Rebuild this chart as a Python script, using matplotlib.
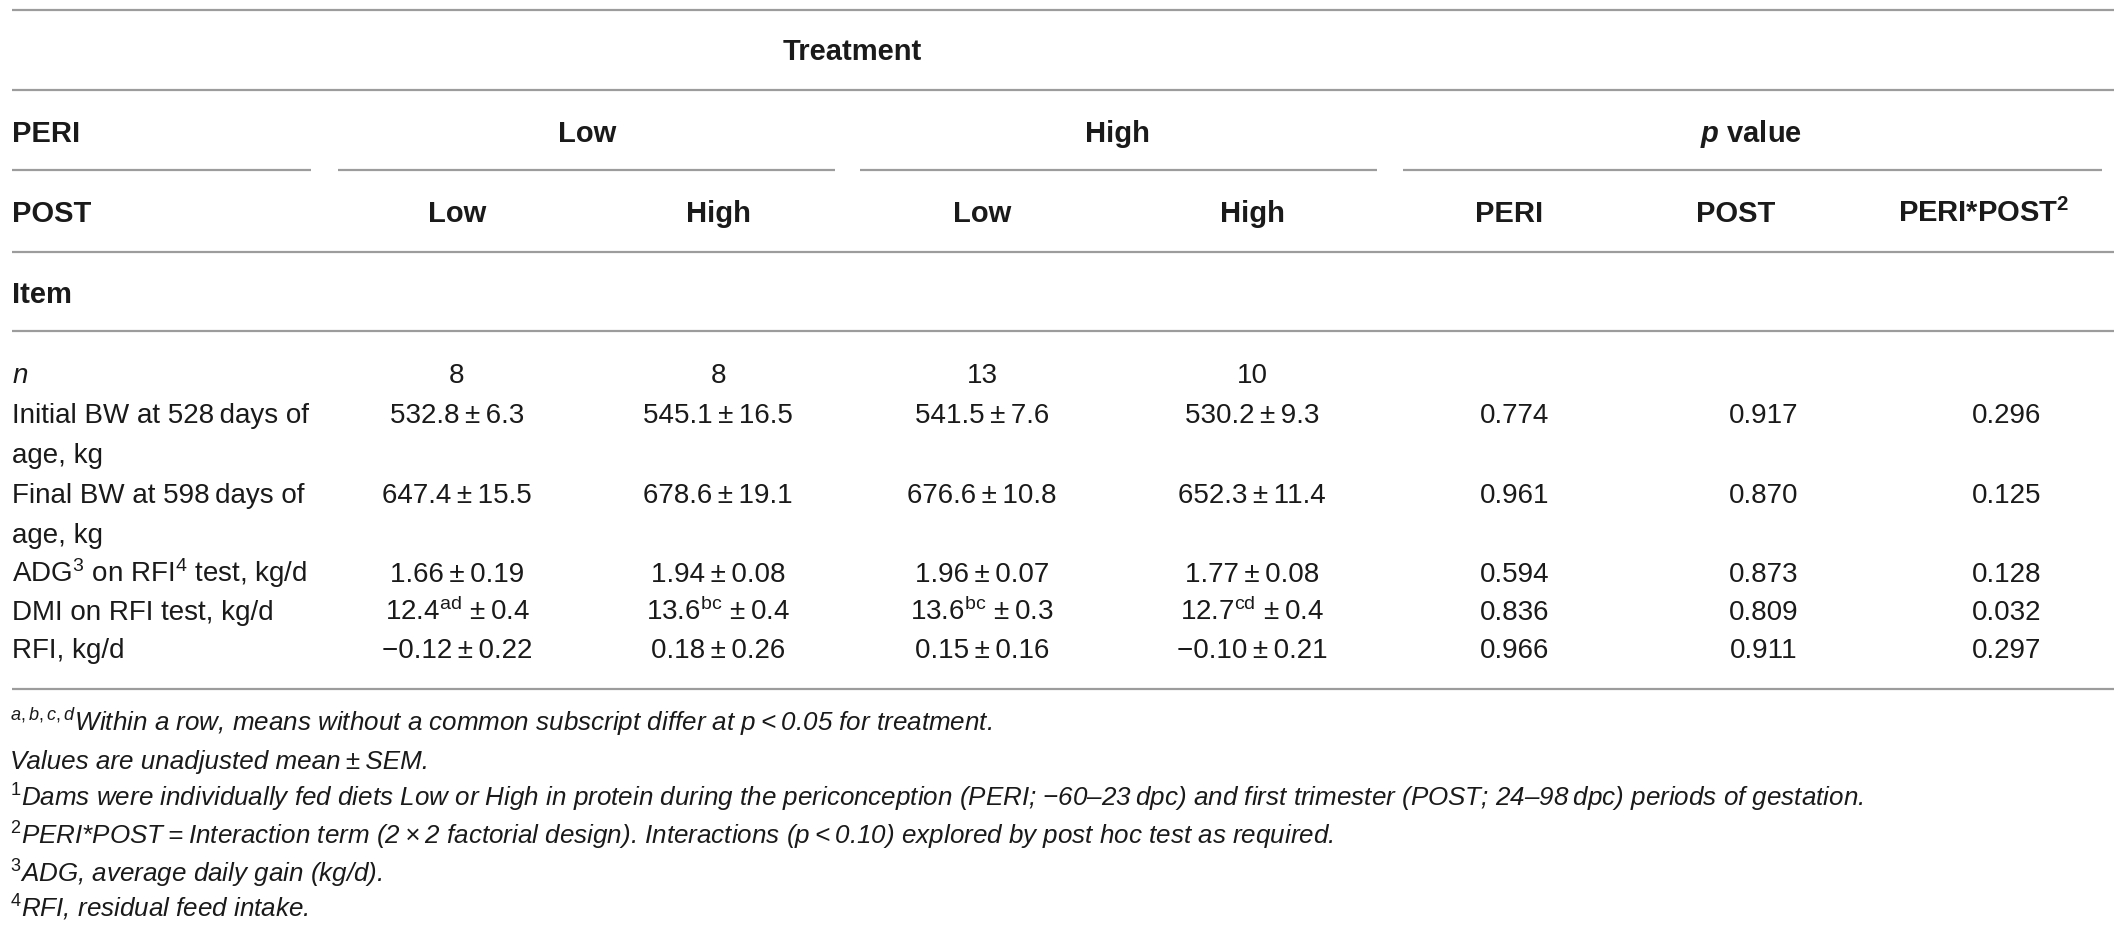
import matplotlib
matplotlib.use("Agg")
import matplotlib.pyplot as plt

plt.rcParams["font.family"] = ["Liberation Sans", "DejaVu Sans"]
plt.rcParams["mathtext.fontset"] = "custom"
plt.rcParams["mathtext.rm"] = "Liberation Sans"
plt.rcParams["mathtext.it"] = "Liberation Sans:italic"
plt.rcParams["mathtext.bf"] = "Liberation Sans:bold"
plt.rcParams["mathtext.bfit"] = "Liberation Sans:italic:bold"

# --- table content ---------------------------------------------------
PERI_LEVELS = ["Low", "High"]
POST_LEVELS = ["Low", "High", "Low", "High"]
PVAL_HEADS = ["PERI", "POST", r"PERI*POST$^{\mathbf{2}}$"]

# each item: list of label lines
ITEMS = [["$\\mathit{n}$"],
         ["Initial BW at 528\u2009days of", "age, kg"],
         ["Final BW at 598\u2009days of", "age, kg"],
         ["ADG$^{3}$ on RFI$^{4}$ test, kg/d"],
         ["DMI on RFI test, kg/d"],
         ["RFI, kg/d"]]
PM = "\u2009\u00b1\u2009"
LOW_LOW = ["8", "532.8" + PM + "6.3", "647.4" + PM + "15.5", "1.66" + PM + "0.19",
           "12.4$^{\\mathrm{ad}}$ \u00b1\u20090.4", "\u22120.12" + PM + "0.22"]
LOW_HIGH = ["8", "545.1" + PM + "16.5", "678.6" + PM + "19.1", "1.94" + PM + "0.08",
            "13.6$^{\\mathrm{bc}}$ \u00b1\u20090.4", "0.18" + PM + "0.26"]
HIGH_LOW = ["13", "541.5" + PM + "7.6", "676.6" + PM + "10.8", "1.96" + PM + "0.07",
            "13.6$^{\\mathrm{bc}}$ \u00b1\u20090.3", "0.15" + PM + "0.16"]
HIGH_HIGH = ["10", "530.2" + PM + "9.3", "652.3" + PM + "11.4", "1.77" + PM + "0.08",
             "12.7$^{\\mathrm{cd}}$ \u00b1\u20090.4", "\u22120.10" + PM + "0.21"]
P_PERI = ["", "0.774", "0.961", "0.594", "0.836", "0.966"]
P_POST = ["", "0.917", "0.870", "0.873", "0.809", "0.911"]
P_INTER = ["", "0.296", "0.125", "0.128", "0.032", "0.297"]

FOOTNOTES = [
    "$^{\\mathit{a,b,c,d}}$Within a row, means without a common subscript differ at p\u2009<\u20090.05 for treatment.",
    "Values are unadjusted mean" + PM + "SEM.",
    "$^{\\mathit{1}}$Dams were individually fed diets Low or High in protein during the periconception "
    "(PERI; \u221260\u201323\u2009dpc) and first trimester (POST; 24\u201398\u2009dpc) periods of gestation.",
    "$^{\\mathit{2}}$PERI*POST\u2009=\u2009Interaction term (2\u2009\u00d7\u20092 factorial design). "
    "Interactions (p\u2009<\u20090.10) explored by post hoc test as required.",
    "$^{\\mathit{3}}$ADG, average daily gain (kg/d).",
    "$^{\\mathit{4}}$RFI, residual feed intake.",
]

# --- layout (pixel space) -------------------------------------------
W, H = 2122, 930
X0, X1 = 12, 2114
COLS = [457, 718, 982, 1252]
PCOLS = [1515, 1764, 2007]
PHEAD = [1509, 1736, 1984]
ROW_Y = [373, 413, 493, 572, 610, 648]
LINE_STEP = 40
FOOT_Y = [722, 760, 797, 835, 873, 908]
TXT = "#1a1a1a"
LINE = "#9c9c9c"
FS = 20
FS_HEAD = 21
FS_FOOT = 18.7

fig = plt.figure(figsize=(W / 100, H / 100), dpi=100)
ax = fig.add_axes([0, 0, 1, 1])
ax.set_xlim(0, W)
ax.set_ylim(H, 0)
ax.axis("off")


def hline(y, xa=X0, xb=X1):
    ax.plot([xa, xb], [y, y], color=LINE, lw=1.6, solid_capstyle="butt")


def txt(x, y, s, ha="center", fs=FS, **kw):
    # y is the visual centre of the capitals; shift to baseline
    off = fs * 100 / 72 * 0.716 / 2
    ax.text(x, y + off, s, ha=ha, va="baseline", color=TXT, fontsize=fs, **kw)


def head(x, y, s, ha="center"):
    txt(x, y, s, ha=ha, fs=FS_HEAD, weight="bold")


# header
hline(10)
head(852, 50, "Treatment")
hline(90)
head(X0, 132, "PERI", ha="left")
head((COLS[0] + COLS[1]) / 2, 132, PERI_LEVELS[0])
head((COLS[2] + COLS[3]) / 2, 132, PERI_LEVELS[1])
head(1751, 132, r"$\mathbfit{p}$ value")
for xa, xb in [(12, 311), (338, 835), (860, 1377), (1403, 2102)]:
    hline(170, xa, xb)
head(X0, 212, "POST", ha="left")
for x, s in zip(COLS, POST_LEVELS):
    head(x, 212, s)
for x, s in zip(PHEAD, PVAL_HEADS):
    head(x, 212, s)
hline(252)
head(X0, 293, "Item", ha="left")
hline(331)

# body
for i, y in enumerate(ROW_Y):
    for k, line in enumerate(ITEMS[i]):
        txt(X0, y + k * LINE_STEP, line, ha="left")
    for x, col in zip(COLS, [LOW_LOW, LOW_HIGH, HIGH_LOW, HIGH_HIGH]):
        txt(x, y, col[i])
    for x, col in zip(PCOLS, [P_PERI, P_POST, P_INTER]):
        if col[i]:
            txt(x, y, col[i])
hline(689)

for y, s in zip(FOOT_Y, FOOTNOTES):
    txt(10, y, s, ha="left", fs=FS_FOOT, style="italic")

fig.savefig("out.png", dpi=100)
